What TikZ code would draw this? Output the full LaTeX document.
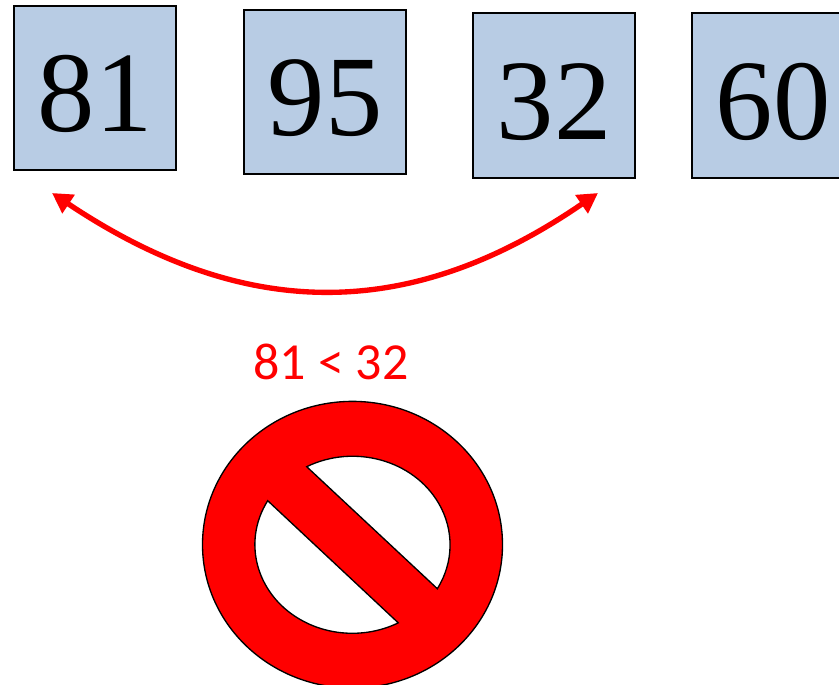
\documentclass[tikz,border=0pt]{standalone}
\usepackage{fontspec}
\setmainfont{Liberation Serif}
\newfontfamily\labelfont{Carlito}
\usetikzlibrary{arrows.meta}
\definecolor{boxblue}{RGB}{184,204,228}

\begin{document}
\begin{tikzpicture}[
        numbernode/.style={rectangle, draw=black, fill=boxblue, line width=1.5pt, minimum width=121.5pt, minimum height=123pt, inner sep=0pt, text height=66pt, text depth=0pt, font=\fontsize{86}{100}\selectfont},
        swaparrow/.style={{Triangle[length=15pt,width=16pt]}-{Triangle[length=15pt,width=16pt]}, draw=red, line width=4pt},
        x=0.75pt,y=-0.75pt,
    ]
    \path[use as bounding box, clip] (0,0) rectangle (839,685);
    \node[numbernode] (81) at (95,88) {81};
    \node[numbernode] (95) at (325,92) {95};
    \node[numbernode] (32) at (554,95.5) {32};
    \node[numbernode] (60) at (773,95.5) {60};
    \coordinate (swapleft) at (52,193);
    \coordinate (swapright) at (598,193);
    \draw [swaparrow] (swapleft) .. controls (245,322) and (410,322) .. (swapright);
    \node[text=red, font=\labelfont\fontsize{39}{46}\selectfont] (compare) at (331,362) {81 < 32};
    % forbidden sign
    \coordinate (sign) at (352.5,544.7);
    \draw[fill=red, draw=black, line width=1pt, even odd rule]
        (sign) ellipse [x radius=112.5pt, y radius=107.5pt]
        (306.7,466.7) arc [start angle=118.1, end angle=-29.6, x radius=73.1pt, y radius=66.5pt] -- cycle
        (267.7,500.7) arc [start angle=150.3, end angle=298.1, x radius=73.1pt, y radius=66.5pt] -- cycle;
\end{tikzpicture}
\end{document}
